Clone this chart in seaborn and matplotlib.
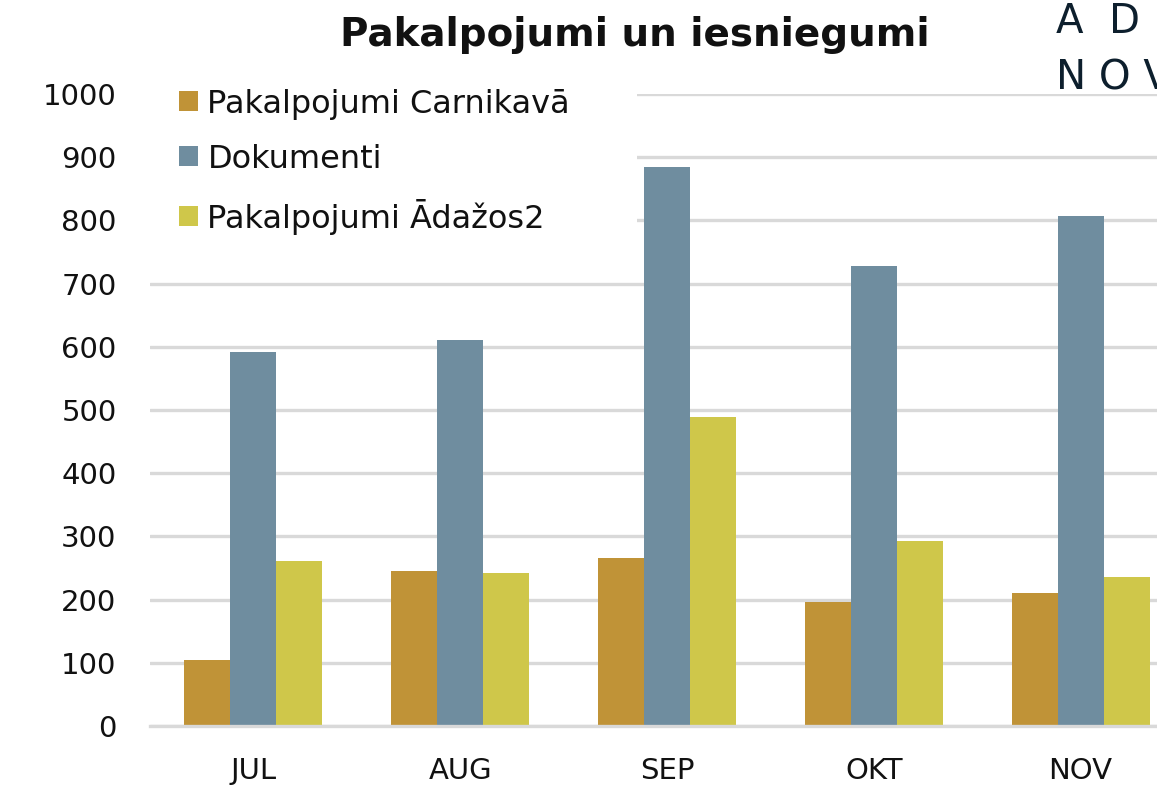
import pandas as pd
import matplotlib.pyplot as plt
import seaborn as sns

# Monthly values
months = ["JUL", "AUG", "SEP", "OKT", "NOV"]
carnikava = [104, 245, 266, 196, 210]
dokumenti = [592, 611, 884, 728, 807]
adazos2 = [261, 242, 489, 293, 236]

series_names = ["Pakalpojumi Carnikavā", "Dokumenti", "Pakalpojumi Ādažos2"]
colors = ["#c09337", "#6f8d9f", "#cfc74a"]

# Long format for seaborn
df = pd.DataFrame({
    "month": months * 3,
    "value": carnikava + dokumenti + adazos2,
    "series": [s for s in series_names for _ in months],
})

sns.set_style("white")
plt.rcParams["font.family"] = ["DejaVu Sans"]

fig = plt.figure(figsize=(11.57, 7.85), dpi=100)
ax = fig.add_axes([0.1296, 0.0752, 0.8937, 0.8051])

sns.barplot(data=df, x="month", y="value", hue="series", order=months,
            hue_order=series_names, palette=colors, width=0.667, gap=0,
            saturation=1, edgecolor="none", ax=ax)

ax.set_xlim(-0.5, 4.5)
ax.set_ylim(0, 1000)
ax.set_yticks(range(0, 1001, 100))
ax.yaxis.grid(True, color="#d9d9d9", linewidth=2.4)
ax.set_axisbelow(True)
ax.set_xlabel("")
ax.set_ylabel("")
ax.tick_params(axis="both", length=0, labelsize=21, colors="#111111")
ax.tick_params(axis="y", pad=24)
ax.tick_params(axis="x", pad=22)

for side in ["left", "right", "top"]:
    ax.spines[side].set_visible(False)
ax.spines["bottom"].set_color("#d9d9d9")
ax.spines["bottom"].set_linewidth(2.4)

# Legend sits on a white box that hides the top gridlines
handles, labels = ax.get_legend_handles_labels()
leg = ax.legend(handles, labels, loc="upper left", bbox_to_anchor=(0, 0, 0.471, 1.055),
                mode="expand", fontsize=23, frameon=True, facecolor="white",
                edgecolor="none", framealpha=1, fancybox=False,
                handlelength=0.58, handleheight=0.58, handletextpad=0.3,
                labelspacing=0.75, borderpad=0.92, borderaxespad=0)
for t in leg.get_texts():
    t.set_color("#111111")

# Title and the cut-off logo text in the corner
fig.text(0.549, 0.955, "Pakalpojumi un iesniegumi", ha="center", va="center",
         fontsize=28, fontweight="bold", color="#111111")
fig.text(0.913, 0.958, "Ā  D  A  Ž  U", ha="left", va="baseline",
         fontsize=29, color="#0d1f2d")
fig.text(0.913, 0.8854, "N O V A D S", ha="left", va="baseline",
         fontsize=29, color="#0d1f2d")

fig.savefig("out.png", dpi=100)
